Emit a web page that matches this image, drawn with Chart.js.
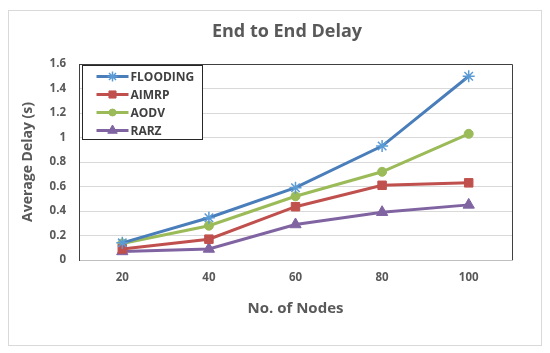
<!DOCTYPE html>
<html>
<head>
<meta charset="utf-8">
<script src="https://cdn.jsdelivr.net/npm/chart.js@4.4.1/dist/chart.umd.min.js"></script>
<style>
  body { margin: 0; background: #fff; }
  #wrap { width: 550px; height: 353px; }
</style>
</head>
<body>
<div id="wrap"><canvas id="delay"></canvas></div>
<script>
// data
const nodes = ['20', '40', '60', '80', '100'];
const flooding = [0.14, 0.345, 0.59, 0.93, 1.50];
const aimrp = [0.09, 0.17, 0.435, 0.61, 0.63];
const aodv = [0.135, 0.28, 0.52, 0.72, 1.03];
const rarz = [0.07, 0.09, 0.29, 0.39, 0.45];
const yTicks = [0, 0.2, 0.4, 0.6, 0.8, 1, 1.2, 1.4, 1.6];

const grey = '#595959';
const fontFam = "'Open Sans', 'Liberation Sans', sans-serif";

function serie(nom, valeurs, couleur, forme, taille, bordPoint){
    return {
        label: nom,
        data: valeurs,
        borderColor: couleur,
        backgroundColor: couleur,
        pointStyle: forme,
        pointRadius: taille,
        pointHoverRadius: taille,
        pointBorderColor: bordPoint || couleur,
        pointBackgroundColor: couleur,
        pointBorderWidth: forme === 'star' ? 1.5 : 1,
        borderWidth: 3,
        tension: 0
    };
}

// fond blanc, cadre exterieur, titre, bordure du graphique et legende encadree
const decor = {
    id: 'decor',
    beforeDraw(chart){
        let ctx = chart.ctx;
        ctx.save();
        ctx.fillStyle = '#fff';
        ctx.fillRect(0, 0, chart.width, chart.height);
        ctx.strokeStyle = '#d9d9d9';
        ctx.lineWidth = 1;
        ctx.strokeRect(8.5, 10.5, 533, 335);

        ctx.fillStyle = grey;
        ctx.font = 'bold 18px ' + fontFam;
        ctx.textAlign = 'center';
        ctx.textBaseline = 'middle';
        ctx.fillText('End to End Delay', 287, 32);
        ctx.restore();
    },
    afterDraw(chart){
        let ctx = chart.ctx;
        let a = chart.chartArea;
        ctx.save();
        ctx.strokeStyle = '#404040';
        ctx.lineWidth = 1;
        ctx.beginPath();
        ctx.moveTo(Math.round(a.left) + 0.5, Math.round(a.top) + 0.5);
        ctx.lineTo(Math.round(a.right) + 0.5, Math.round(a.top) + 0.5);
        ctx.lineTo(Math.round(a.right) + 0.5, Math.round(a.bottom));
        ctx.stroke();

        // legende
        let x0 = Math.round(a.left) + 3.5;
        let y0 = Math.round(a.top) + 1.5;
        ctx.fillStyle = '#fff';
        ctx.fillRect(x0, y0, 120, 74);
        ctx.strokeStyle = '#262626';
        ctx.strokeRect(x0, y0, 120, 74);
        ctx.textBaseline = 'middle';
        ctx.textAlign = 'left';
        chart.data.datasets.forEach((ds, i) => {
            let y = y0 + 11 + i * 18;
            ctx.strokeStyle = ds.borderColor;
            ctx.lineWidth = 3;
            ctx.beginPath();
            ctx.moveTo(x0 + 14, y);
            ctx.lineTo(x0 + 46, y);
            ctx.stroke();
            ctx.fillStyle = ds.pointBackgroundColor;
            ctx.strokeStyle = ds.pointBorderColor;
            ctx.lineWidth = ds.pointBorderWidth;
            Chart.helpers.drawPoint(ctx, {
                pointStyle: ds.pointStyle,
                radius: ds.pointRadius - 1,
                borderWidth: ds.pointBorderWidth,
                rotation: 0
            }, x0 + 30, y);
            ctx.fillStyle = '#404040';
            ctx.font = 'bold 12px ' + fontFam;
            ctx.fillText(ds.label, x0 + 48, y + 1);
        });
        ctx.restore();
    }
};

let cvs = document.getElementById('delay').getContext('2d');
let graphe = new Chart(cvs, {
    type: 'line',
    data: {
        labels: nodes,
        datasets: [
            serie('FLOODING', flooding, '#4a7ebb', 'star', 6, '#5b9bd5'),
            serie('AIMRP', aimrp, '#c0504d', 'rect', 6),
            serie('AODV', aodv, '#9bbb59', 'circle', 4.5),
            serie('RARZ', rarz, '#8064a2', 'triangle', 6.5)
        ]
    },
    options: {
        responsive: true,
        maintainAspectRatio: false,
        animation: false,
        layout: { padding: { left: 8, right: 38, top: 64, bottom: 31 } },
        plugins: {
            legend: { display: false },
            tooltip: { enabled: false },
            title: { display: false }
        },
        scales: {
            x: {
                offset: true,
                grid: { display: false },
                border: { display: true, color: '#bfbfbf' },
                ticks: { color: grey, font: { family: fontFam, size: 11.5, weight: 'bold' }, padding: 3 },
                title: {
                    display: true,
                    text: 'No. of Nodes',
                    color: grey,
                    font: { family: fontFam, size: 15, weight: 'bold' },
                    padding: { top: 4 }
                },
                afterFit(s){ s.height = 62; }
            },
            y: {
                min: 0,
                max: 1.6,
                afterBuildTicks(s){ s.ticks = yTicks.map(v => ({ value: v })); },
                grid: { color: '#d9d9d9', drawTicks: false },
                border: { display: true, color: '#404040' },
                ticks: {
                    color: grey,
                    font: { family: fontFam, size: 11.5, weight: 'bold' },
                    padding: 13,
                    callback: v => String(+Number(v).toFixed(1))
                },
                title: {
                    display: true,
                    text: 'Average Delay (s)',
                    color: grey,
                    font: { family: fontFam, size: 14, weight: 'bold' },
                    padding: { top: 12, bottom: 2 }
                },
                afterFit(s){ s.width = 71; }
            }
        }
    },
    plugins: [decor]
});
</script>
</body>
</html>
